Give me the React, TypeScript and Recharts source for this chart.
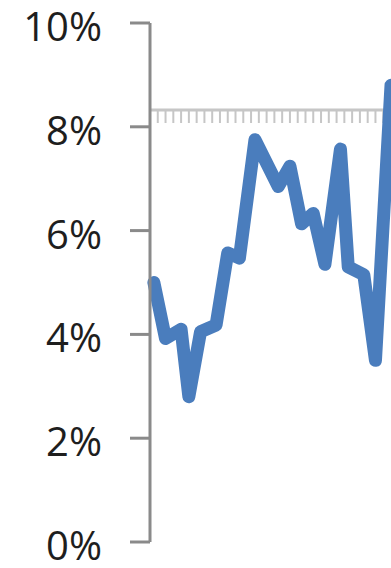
import React from 'react';
import { ComposedChart, LineChart, Line, XAxis, YAxis } from 'recharts';

// period index (x) and rate (%)
const periods = [1, 4, 8, 10, 13, 17, 20, 23, 27, 33, 36, 39, 42, 45, 49, 51, 55, 58, 62];
const rates = [5.0, 3.92, 4.1, 2.8, 4.05, 4.18, 5.57, 5.47, 7.75, 6.85, 7.24, 6.13, 6.33, 5.35, 7.57, 5.3, 5.15, 3.5, 8.8];
const yTicks = [0, 2, 4, 6, 8, 10];
const xTicks = [0, 2, 4, 6, 8, 10, 12, 14, 16, 18, 20, 22, 24, 26, 28, 30, 32, 34, 36, 38, 40, 42, 44, 46, 48, 50, 52, 54, 56, 58, 60, 62];
const xDomain: [number, number] = [0, 62];

const data = periods.map((p, i) => ({ x: p, rate: rates[i] }));

const YTick = (props: any) => {
  const { x, y, payload } = props;
  return (
    <text x={x} y={y + 18} textAnchor="end" fontSize={40} fontFamily="'Open Sans'" fill="#1e1e1e">
      {`${payload.value}%`}
    </text>
  );
};

export default function App() {
  return (
    <div style={{ position: 'fixed', left: 0, top: 0, width: 391, height: 568, overflow: 'hidden', background: '#fff' }}>
      <div style={{ position: 'absolute', left: 0, top: 0 }}>
        <ComposedChart width={391} height={140} data={data} margin={{ top: 0, right: 0, left: 150, bottom: 0 }}>
          <XAxis
            type="number"
            dataKey="x"
            domain={xDomain}
            ticks={xTicks}
            interval={0}
            height={30}
            axisLine={{ stroke: '#c6c6c6', strokeWidth: 3 }}
            tickLine={{ stroke: '#c6c6c6', strokeWidth: 2 }}
            tickSize={13}
            tickFormatter={() => ''}
          />
          <YAxis hide domain={[0, 10]} />
        </ComposedChart>
      </div>
      <div style={{ position: 'absolute', left: 0, top: 0 }}>
        <LineChart width={391} height={568} data={data} margin={{ top: 23, right: 0, left: 0, bottom: 26 }}>
          <XAxis type="number" dataKey="x" domain={xDomain} hide />
          <YAxis
            domain={[0, 10]}
            ticks={yTicks}
            width={150}
            interval={0}
            axisLine={{ stroke: '#8a8a8a', strokeWidth: 3 }}
            tickLine={{ stroke: '#8a8a8a', strokeWidth: 3 }}
            tickSize={20}
            tickMargin={28}
            tick={<YTick />}
          />
          <Line
            type="linear"
            dataKey="rate"
            stroke="#4a7dbd"
            strokeWidth={13}
            strokeLinejoin="round"
            strokeLinecap="round"
            dot={false}
            isAnimationActive={false}
          />
        </LineChart>
      </div>
    </div>
  );
}
